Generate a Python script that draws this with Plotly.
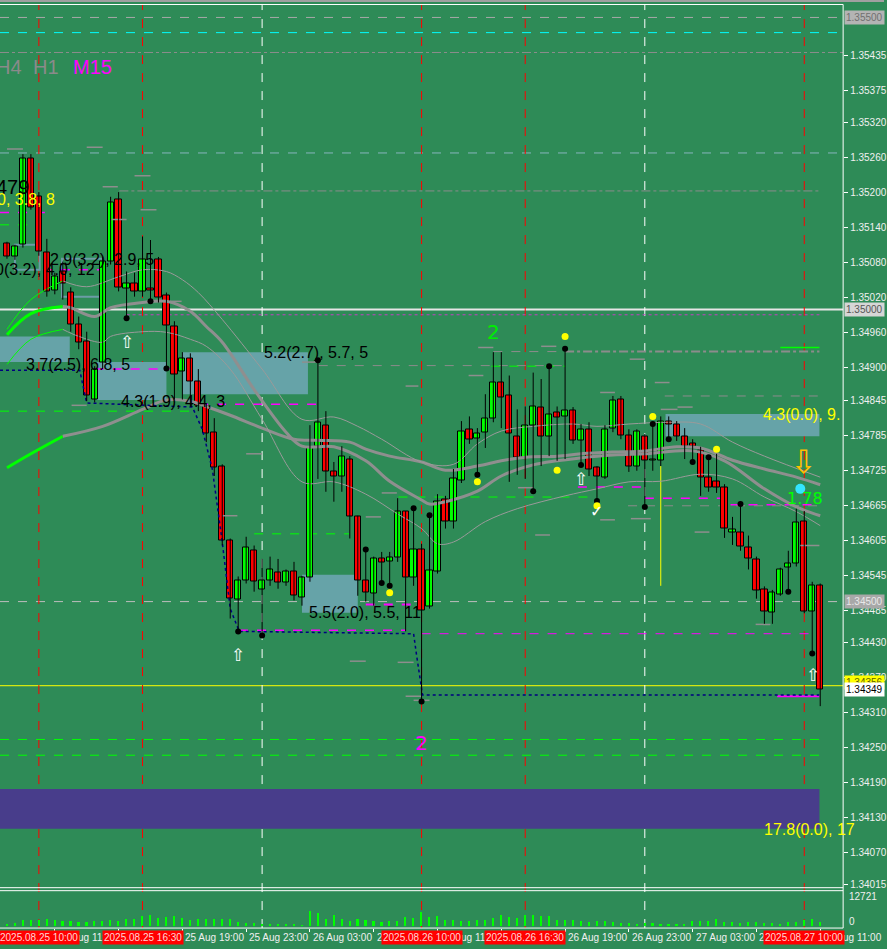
import plotly.graph_objects as go
import pandas as pd

# ---------------- data (M30 bars) ----------------
START = "2025-08-25 08:00"
BAR_MIN = 30

open_ = [1.35113,1.35090,1.35111,1.35259,1.35193,1.35097,1.35032,1.35065,1.35029,1.34974,
         1.34945,1.34846,1.34910,1.35082,1.35188,1.35036,1.35044,1.35031,1.35036,1.35085,
         1.35024,1.34971,1.34894,1.34916,1.34877,1.34834,1.34790,1.34732,1.34604,1.34503,
         1.34536,1.34587,1.34520,1.34536,1.34549,1.34532,1.34551,1.34507,1.34541,1.34765,
         1.34802,1.34722,1.34715,1.34744,1.34645,1.34536,1.34514,1.34573,1.34568,1.34575,
         1.34654,1.34541,1.34589,1.34491,1.34551,1.34674,1.34637,1.34708,1.34794,1.34780,
         1.34790,1.34814,1.34875,1.34852,1.34783,1.34747,1.34802,1.34833,1.34782,1.34823,
         1.34817,1.34828,1.34775,1.34795,1.34729,1.34713,1.34797,1.34846,1.34785,1.34732,
         1.34782,1.34741,1.34742,1.34809,1.34804,1.34783,1.34770,1.34759,1.34713,1.34706,
         1.34696,1.34619,1.34619,1.34592,1.34572,1.34520,1.34481,1.34512,1.34558,1.34565,
         1.34637,1.34483,1.34527]
high_ = [1.35116,1.35111,1.35266,1.35266,1.35201,1.35121,1.35063,1.35082,1.35038,1.34988,
         1.34962,1.34903,1.35090,1.35193,1.35201,1.35065,1.35063,1.35125,1.35119,1.35090,
         1.35029,1.34980,1.34927,1.34925,1.34898,1.34838,1.34814,1.34735,1.34608,1.34543,
         1.34611,1.34596,1.34573,1.34577,1.34573,1.34555,1.34568,1.34544,1.34802,1.34913,
         1.34826,1.34739,1.34766,1.34749,1.34647,1.34587,1.34577,1.34585,1.34585,1.34677,
         1.34655,1.34660,1.34599,1.34648,1.34684,1.34681,1.34727,1.34809,1.34817,1.34797,
         1.34855,1.34927,1.34927,1.34887,1.34829,1.34834,1.34892,1.34881,1.34903,1.34834,
         1.34933,1.34833,1.34804,1.34807,1.34732,1.34802,1.34852,1.34852,1.34795,1.34795,
         1.34787,1.34804,1.34817,1.34817,1.34809,1.34797,1.34778,1.34765,1.34747,1.34753,
         1.34701,1.34645,1.34667,1.34613,1.34577,1.34526,1.34520,1.34558,1.34587,1.34659,
         1.34655,1.34534,1.34531]
low_ = [1.35087,1.35085,1.35106,1.35171,1.35092,1.35022,1.35026,1.35017,1.34962,1.34932,
        1.34843,1.34841,1.34898,1.35077,1.35031,1.34985,1.35022,1.35022,1.35014,1.35012,
        1.34899,1.34846,1.34846,1.34834,1.34826,1.34773,1.34715,1.34596,1.34471,1.34449,
        1.34531,1.34517,1.34442,1.34527,1.34522,1.34527,1.34502,1.34493,1.34534,1.34710,
        1.34688,1.34671,1.34688,1.34608,1.34510,1.34500,1.34493,1.34532,1.34527,1.34568,
        1.34449,1.34527,1.34329,1.34488,1.34548,1.34625,1.34625,1.34703,1.34770,1.34717,
        1.34763,1.34807,1.34797,1.34705,1.34717,1.34710,1.34689,1.34732,1.34749,1.34741,
        1.34744,1.34770,1.34734,1.34715,1.34672,1.34710,1.34790,1.34778,1.34722,1.34724,
        1.34662,1.34724,1.34732,1.34776,1.34775,1.34744,1.34739,1.34681,1.34688,1.34686,
        1.34609,1.34597,1.34587,1.34555,1.34505,1.34462,1.34462,1.34510,1.34517,1.34560,
        1.34480,1.34411,1.34321]
close_ = [1.35090,1.35108,1.35259,1.35174,1.35099,1.35031,1.35056,1.35044,1.34974,1.34944,
          1.34852,1.34898,1.35082,1.35184,1.35038,1.35044,1.35031,1.35085,1.35032,1.35020,
          1.34973,1.34889,1.34916,1.34877,1.34836,1.34788,1.34730,1.34604,1.34505,1.34536,
          1.34592,1.34534,1.34536,1.34555,1.34532,1.34551,1.34510,1.34541,1.34763,1.34807,
          1.34722,1.34715,1.34749,1.34645,1.34536,1.34515,1.34573,1.34567,1.34575,1.34654,
          1.34541,1.34590,1.34485,1.34553,1.34671,1.34637,1.34710,1.34792,1.34778,1.34787,
          1.34814,1.34875,1.34850,1.34788,1.34747,1.34802,1.34834,1.34782,1.34821,1.34816,
          1.34828,1.34775,1.34795,1.34727,1.34715,1.34795,1.34845,1.34785,1.34732,1.34792,
          1.34741,1.34744,1.34809,1.34804,1.34783,1.34766,1.34766,1.34712,1.34696,1.34695,
          1.34626,1.34623,1.34594,1.34573,1.34519,1.34483,1.34515,1.34555,1.34565,1.34635,
          1.34483,1.34527,1.34349]
volume = [821,1231,2599,2599,2326,3010,2326,2189,1915,1642,
          1642,1915,2189,2326,2189,2736,2873,3967,4651,3283,
          3694,3967,3420,2599,3010,2873,2736,2873,3010,1642,
          1094,1368,958,821,547,410,410,274,6293,5472,
          3010,4651,2736,1915,3010,2599,1915,1778,2052,2189,
          3694,3283,5746,3694,3967,2599,2462,2052,1915,2326,
          2599,3420,4651,3830,3283,4378,4651,4104,4104,2599,
          2599,2599,1915,1642,2052,2052,1642,1231,1231,958,
          1094,1368,410,684,684,547,2052,2189,2052,2873,
          1642,1642,1368,1505,1505,1231,1231,821,1642,1778,
          2326,3010,1642]
VOL_MAX = 12721

# moving averages (bar index, price); first part drawn lime
maA_idx = [0,3,7,12,17,20,23,25,28,32,36,39,43,45,48,52,55,59,62,65,69,72,76,80,84,87,91,95,99,102]
maA_val = [1.34729,1.34753,1.34783,1.34800,1.34829,1.34845,1.34843,1.34834,1.34819,1.34797,
           1.34778,1.34776,1.34773,1.34761,1.34749,1.34739,1.34725,1.34732,1.34741,1.34747,
           1.34749,1.34753,1.34756,1.34758,1.34765,1.34763,1.34742,1.34727,1.34713,1.34700]
maB_idx = [0,3,7,8,11,13,17,20,23,25,27,31,35,37,41,45,48,52,53,55,59,62,66,69,74,80,86,90,95,99,102]
maB_val = [1.34957,1.34993,1.35005,1.35003,1.34988,1.35003,1.35012,1.35014,1.34997,1.34971,
           1.34944,1.34863,1.34790,1.34766,1.34765,1.34741,1.34706,1.34674,1.34667,1.34671,
           1.34689,1.34715,1.34734,1.34741,1.34749,1.34753,1.34758,1.34741,1.34693,1.34662,1.34647]
ub_idx = [0,3,7,10,14,17,20,22,24,27,32,37,41,44,47,52,56,59,62,66,71,74,78,83,87,91,95,102]
ub_val = [1.34966,1.35017,1.35049,1.35039,1.35056,1.35068,1.35065,1.35051,1.35029,1.34983,
          1.34898,1.34812,1.34816,1.34800,1.34778,1.34739,1.34735,1.34770,1.34792,1.34800,
          1.34804,1.34800,1.34804,1.34807,1.34804,1.34773,1.34749,1.34713]
lb_idx = [0,3,7,9,12,13,17,20,23,25,28,32,37,41,45,49,52,54,56,60,64,70,74,78,82,87,91,95,99,102]
lb_val = [1.34906,1.34949,1.34966,1.34954,1.34944,1.34954,1.34962,1.34961,1.34949,1.34937,
          1.34898,1.34812,1.34705,1.34705,1.34684,1.34650,1.34625,1.34599,1.34602,1.34637,
          1.34659,1.34681,1.34693,1.34705,1.34706,1.34718,1.34710,1.34679,1.34654,1.34630]
LIME_UNTIL = 7
trail_idx = [-0.875,9.125,10,23.25,24.5,25.75,27,28,29.125,51,51.375,51.75,52.125,101.875]
trail_val = [1.34896,1.34896,1.34840,1.34833,1.34795,1.34727,1.34602,1.34488,1.34449,1.34445,
             1.34408,1.34372,1.34340,1.34340]

black_dot_idx = [15,18,20,29,32,39,45,47,48,51,53,52,59,66,68,70,72,74,80,81,83,86,88,92,98,101]
black_dot_val = [1.34985,1.35014,1.34899,1.34449,1.34442,1.34913,1.34589,1.34532,1.34527,1.34660,
                 1.34648,1.34329,1.34717,1.34689,1.34903,1.34933,1.34734,1.34672,1.34662,1.34804,
                 1.34778,1.34739,1.34747,1.34667,1.34517,1.34411]
yellow_dot_idx = [48,59,69,70,74,81,89]
yellow_dot_val = [1.34515,1.34705,1.34725,1.34954,1.34664,1.34817,1.34761]

# levels
full_levels = [  # price, colour, dash, width
    (1.35500, '#A8A8A8', 'dash', 1),
    (1.35474, '#00FFFF', 'dash', 1),
    (1.35440, '#8C8C8C', 'dashdot', 1),
    (1.35268, '#86B4BE', 'dash', 1),
    (1.35000, '#E6E6E6', 'solid', 2),
    (1.34500, '#BDBDBD', 'dash', 1),
    (1.34356, '#FFFF00', 'solid', 1),
]
seg_levels = [  # i0, i1, price, colour, dash, width
    (-0.875, 101.9, 1.34264, '#00FF00', 'dash', 1),
    (-0.875, 101.9, 1.34237, '#00FF00', 'dash', 1),
    (14.1, 101.9, 1.35203, '#8C8C8C', 'dashdot', 1),
    (70, 101.9, 1.34928, '#8C8C8C', 'dashdot', 2),
    (61, 70, 1.34928, '#8C8C8C', 'dash', 1),
    (39.1, 70, 1.34904, '#8C8C8C', 'dash', 1),
    (60.75, 70, 1.34903, '#00FF00', 'dash', 1),
    (82.5, 101.9, 1.34852, '#8C8C8C', 'dash', 1),
    (-0.875, 23.5, 1.34826, '#00FF00', 'dash', 1),
    (11, 20.4, 1.34898, '#FF00FF', 'dash', 1.5),
    (24.1, 38.9, 1.34838, '#FF00FF', 'dash', 1.5),
    (-0.875, 4.1, 1.35145, '#00FF00', 'dash', 1),
    (-0.875, 4.75, 1.35166, '#FF00FF', 'dash', 1.5),
    (4.5, 11.6, 1.35068, '#FF00FF', 'dash', 1.5),
    (15, 101.9, 1.34991, '#C040C0', 'dot', 1),
    (31, 42.9, 1.34616, '#00FF00', 'dash', 1),
    (49.1, 73.9, 1.34679, '#00FF00', 'dash', 1),
    (97, 101.9, 1.34935, '#00FF00', 'solid', 1.5),
    (45, 52, 1.34495, '#FF00FF', 'dash', 2),
    (29.1, 50, 1.34451, '#FF00FF', 'dash', 1.5),
    (52, 100.75, 1.34445, '#FF00FF', 'dash', 1),
    (71.6, 80, 1.34696, '#FF00FF', 'dash', 1.5),
    (80, 90, 1.34677, '#FF00FF', 'dash', 1.5),
    (90.75, 101.9, 1.34666, '#FF00FF', 'dash', 1.5),
    (77.9, 101.9, 1.34664, '#8C8C8C', 'dash', 1),
    (96.6, 101.9, 1.34338, '#FF00FF', 'solid', 2),
]
short_i0 = [0,10,16,12,16.75,13.1,8.1,30,27,37,47,45,50,57.9,59.1,67,74.4,78.1,81.25,82,84.1,64.1,66.25,74.4,78.25,86.25,93.9,43,49,50,51,20.4,99.5]
short_i1 = [2,12,18,13.9,18.75,15,10,32,28.9,38.9,48.9,46.9,51.6,59.75,61,68.9,76.25,80,83.1,84.1,86,66,68.1,76.25,80.75,88.1,95.75,45,51,52,53,21.9,101.9]
short_p = [1.35275,1.35278,1.35229,1.35210,1.35171,1.35154,1.34836,1.34753,1.34647,1.34910,1.34686,
           1.34645,1.34869,1.34887,1.34935,1.34937,1.34858,1.34915,1.34875,1.34829,1.34833,1.34695,
           1.34614,1.34640,1.34642,1.34619,1.34461,1.34398,1.34396,1.34338,1.34331,1.35014,1.34596]

zones = [(-0.875, 7.875, 1.34954, 1.34910), (11.25, 20, 1.34910, 1.34845),
         (22, 37.75, 1.34927, 1.34855), (37, 44, 1.34546, 1.34481), (82.6, 101.9, 1.34821, 1.34783)]
outline_boxes = [(1, 4.1, 1.35111, 1.35068), (6.9, 12, 1.35087, 1.35022)]
band = (-0.875, 101.9, 1.34179, 1.34111)

red_vlines = ["2025-08-25 10:00", "2025-08-25 16:30", "2025-08-26 10:00", "2025-08-26 16:30", "2025-08-27 10:00"]
red_vlabels = ["2025.08.25 10:00", "2025.08.25 16:30", "2025.08.26 10:00", "2025.08.26 16:30", "2025.08.27 10:00"]
day_vlines = ["2025-08-26 00:00", "2025-08-27 00:00"]
yellow_vline = (82, 1.34732, 1.34527)

time_tick_labels = ['25 Aug 11:00', '25 Aug 15:00', '25 Aug 19:00', '25 Aug 23:00', '26 Aug 03:00',
                    '26 Aug 07:00', '26 Aug 11:00', '26 Aug 15:00', '26 Aug 19:00', '26 Aug 23:00',
                    '27 Aug 03:00', '27 Aug 07:00', '27 Aug 11:00']
time_tick_idx = [6 + 8 * k for k in range(len(time_tick_labels))]

price_ticks = [1.35435, 1.35375, 1.35320, 1.35260, 1.35200, 1.35140, 1.35080, 1.35020, 1.34960,
               1.34900, 1.34845, 1.34785, 1.34725, 1.34665, 1.34605, 1.34545, 1.34485, 1.34430,
               1.34370, 1.34310, 1.34250, 1.34190, 1.34130, 1.34070, 1.34015]
price_boxes = [  # price, text, bg, fg
    (1.35500, '1.35500', '#B4B4B4', '#707070'),
    (1.35000, '1.35000', '#D6D6D6', '#555555'),
    (1.34500, '1.34500', '#A8A8A8', '#E8E8E8'),
    (1.34362, '1.34356', '#FFFF00', '#606000'),
    (1.34349, '1.34349', '#FFFFFF', '#000000'),
]

chart_texts = [  # i, price, text, colour, size
    (32, 1.34927, '5.2(2.7), 5.7, 5', '#000000', 16),
    (14.1, 1.34843, '4.3(1.9), 4.4, 3', '#000000', 16),
    (2.1, 1.34906, '3.7(2.5), 6.8, 5', '#000000', 16),
    (5.1, 1.35085, '2.9(3.2), 2.9, 5', '#000000', 16),
    (37.6, 1.34481, '5.5(2.0), 5.5, 11', '#000000', 16),
    (94.6, 1.34821, '4.3(0.0), 9.', '#FFFF00', 16),
    (94.75, 1.34109, '17.8(0.0), 17', '#FFFF00', 16),
]
edge_texts = [  # left px, price, text, colour, size
    (-7, 1.35068, '0(3.2), 4.0, 12', '#000000', 16),
    (-6, 1.35210, '479', '#000000', 20),
    (-5, 1.35188, '0, 3.8, 8', '#FFFF00', 16),
]
tf_labels = [(-6, 'H4', '#8A8A8A'), (31, 'H1', '#8A8A8A'), (71, 'M15', '#FF00FF')]
symbols = [  # i, price, char, colour, size
    (15, 1.34944, '⇧', '#FFFFFF', 17), (29, 1.34408, '⇧', '#FFFFFF', 17),
    (72, 1.34710, '⇧', '#FFFFFF', 17), (101.1, 1.34374, '⇧', '#FFFFFF', 17),
    (99.9, 1.34739, '⇩', '#FFC000', 32), (73.9, 1.34654, '✓', '#FFFFFF', 16),
    (61, 1.34962, '2', '#00EE00', 20), (52, 1.34258, '2', '#FF00FF', 20),
    (100.1, 1.34677, '1.78', '#00FF00', 16),
]
cyan_dot = (99.5, 1.34693)

# ---------------- helpers ----------------
W, H = 887, 949
BG = '#2E8B57'
XR = 846 / W
t0 = pd.Timestamp(START)


def T(i):
    return (t0 + pd.Timedelta(minutes=BAR_MIN * i)).round('s').strftime('%Y-%m-%d %H:%M:%S')


def py(pix):
    return 1 - pix / H


n = len(open_)
xs = [T(i) for i in range(n)]

fig = go.Figure()

# MAs
for idx, val, w, col in [(maA_idx, maA_val, 3, '#8F8F8F'), (maB_idx, maB_val, 3, '#8F8F8F'),
                         (ub_idx, ub_val, 1, '#9A9A9A'), (lb_idx, lb_val, 1, '#9A9A9A')]:
    k = idx.index(LIME_UNTIL)
    fig.add_trace(go.Scatter(x=[T(i) for i in idx[:k + 1]], y=val[:k + 1], mode='lines',
                             line=dict(color='#00FF00', width=w, shape='spline'), hoverinfo='skip'))
    fig.add_trace(go.Scatter(x=[T(i) for i in idx[k:]], y=val[k:], mode='lines',
                             line=dict(color=col, width=w, shape='spline'), hoverinfo='skip'))

# trailing line
fig.add_trace(go.Scatter(x=[T(i) for i in trail_idx], y=trail_val, mode='lines',
                         line=dict(color='#000080', width=1.5, dash='dot'), hoverinfo='skip'))

# short gray marks
sx, sy = [], []
for a, b, p in zip(short_i0, short_i1, short_p):
    sx += [T(a), T(b), None]
    sy += [p, p, None]
fig.add_trace(go.Scatter(x=sx, y=sy, mode='lines', line=dict(color='#8E8E8E', width=1.5), hoverinfo='skip'))

# wicks
wx, wy = [], []
for i in range(n):
    wx += [xs[i], xs[i], None]
    wy += [low_[i], high_[i], None]
fig.add_trace(go.Scatter(x=wx, y=wy, mode='lines', line=dict(color='#000000', width=1), hoverinfo='skip'))

# bodies
colors = ['#00FF00' if c >= o else '#FF0000' for o, c in zip(open_, close_)]
fig.add_trace(go.Bar(x=xs, y=[c - o for o, c in zip(open_, close_)], base=open_,
                     width=BAR_MIN * 60 * 1000 * 0.78, marker=dict(color=colors, line=dict(color='#000000', width=1))))

# dots
fig.add_trace(go.Scatter(x=[T(i) for i in black_dot_idx], y=black_dot_val, mode='markers',
                         marker=dict(color='#000000', size=6), hoverinfo='skip'))
fig.add_trace(go.Scatter(x=[T(i) for i in yellow_dot_idx], y=yellow_dot_val, mode='markers',
                         marker=dict(color='#FFFF00', size=7), hoverinfo='skip'))
fig.add_trace(go.Scatter(x=[T(cyan_dot[0])], y=[cyan_dot[1]], mode='markers',
                         marker=dict(color='#33E5FF', size=10), hoverinfo='skip'))

# volume
fig.add_trace(go.Bar(x=xs, y=volume, yaxis='y2', width=BAR_MIN * 60 * 1000 * 0.2,
                     marker=dict(color='#00FF00', line=dict(width=0))))

# ---------------- shapes ----------------
shapes = []
for i0, i1, pt, pb in zones:
    shapes.append(dict(type='rect', xref='x', yref='y', x0=T(i0), x1=T(i1), y0=pb, y1=pt,
                       fillcolor='#66A3A8', line=dict(width=0), layer='below'))
i0, i1, pt, pb = band
shapes.append(dict(type='rect', xref='x', yref='y', x0=T(i0), x1=T(i1), y0=pb, y1=pt,
                   fillcolor='#483D8B', line=dict(width=0), layer='below'))
for i0, i1, pt, pb in outline_boxes:
    shapes.append(dict(type='rect', xref='x', yref='y', x0=T(i0), x1=T(i1), y0=pb, y1=pt,
                       fillcolor='rgba(0,0,0,0)', line=dict(color='#6C9CA6', width=2), layer='below'))
for p, col, dash, w in full_levels:
    shapes.append(dict(type='line', xref='x domain', yref='y', x0=0, x1=1, y0=p, y1=p,
                       line=dict(color=col, dash=dash, width=w), layer='below'))
for i0, i1, p, col, dash, w in seg_levels:
    shapes.append(dict(type='line', xref='x', yref='y', x0=T(i0), x1=T(i1), y0=p, y1=p,
                       line=dict(color=col, dash=dash, width=w), layer='below'))
for t in red_vlines:
    shapes.append(dict(type='line', xref='x', yref='paper', x0=t, x1=t, y0=py(931), y1=py(4),
                       line=dict(color='#FF0000', dash='dash', width=1), layer='below'))
for t in day_vlines:
    shapes.append(dict(type='line', xref='x', yref='paper', x0=t, x1=t, y0=py(931), y1=py(4),
                       line=dict(color='#FFFFFF', dash='dash', width=1), layer='below'))
shapes.append(dict(type='line', xref='x', yref='y', x0=T(yellow_vline[0]), x1=T(yellow_vline[0]),
                   y0=yellow_vline[2], y1=yellow_vline[1], line=dict(color='#FFFF00', width=1), layer='below'))
# frame
shapes += [
    dict(type='line', xref='paper', yref='paper', x0=0, x1=1, y0=py(1), y1=py(1), line=dict(color='#A0A0A0', width=2)),
    dict(type='line', xref='paper', yref='paper', x0=0, x1=XR, y0=py(4.5), y1=py(4.5), line=dict(color='#FFFFFF', width=1)),
    dict(type='line', xref='paper', yref='paper', x0=XR, x1=XR, y0=py(931), y1=py(4.5), line=dict(color='#FFFFFF', width=1)),
    dict(type='line', xref='paper', yref='paper', x0=0, x1=XR, y0=py(890.5), y1=py(890.5), line=dict(color='#FFFFFF', width=1)),
    dict(type='line', xref='paper', yref='paper', x0=0, x1=XR, y0=py(893.5), y1=py(893.5), line=dict(color='#FFFFFF', width=1)),
    dict(type='line', xref='paper', yref='paper', x0=0, x1=XR, y0=py(931), y1=py(931), line=dict(color='#FFFFFF', width=1)),
]

# ---------------- annotations ----------------
ann = []
FONT = 'Liberation Sans'
for i, p, txt, col, sz in chart_texts:
    ann.append(dict(x=T(i), y=p, xref='x', yref='y', text=txt, showarrow=False, xanchor='left',
                    yanchor='middle', font=dict(family=FONT, size=sz, color=col)))
for lpx, p, txt, col, sz in edge_texts:
    ann.append(dict(x=lpx / W, y=p, xref='paper', yref='y', text=txt, showarrow=False, xanchor='left',
                    yanchor='middle', font=dict(family=FONT, size=sz, color=col)))
for lpx, txt, col in tf_labels:
    ann.append(dict(x=lpx / W, y=py(67), xref='paper', yref='paper', text=txt, showarrow=False,
                    xanchor='left', yanchor='middle', font=dict(family=FONT, size=20, color=col)))
for i, p, ch, col, sz in symbols:
    ann.append(dict(x=T(i), y=p, xref='x', yref='y', text=ch, showarrow=False, xanchor='center',
                    yanchor='middle', font=dict(family='DejaVu Sans', size=sz, color=col)))
for i, lab in zip(time_tick_idx, time_tick_labels):
    ann.append(dict(x=T(i), y=py(940.5), xref='x', yref='paper', text=lab, showarrow=False, xanchor='left',
                    xshift=1, yanchor='middle', font=dict(family=FONT, size=10, color='#F0F0F0')))
for t, lab in zip(red_vlines, red_vlabels):
    ann.append(dict(x=t, y=py(940.5), xref='x', yref='paper', text=lab, showarrow=False, xanchor='center',
                    yanchor='middle', bgcolor='#FF0000', borderpad=1,
                    font=dict(family=FONT, size=10, color='#FFD6D6')))
for p, txt, bg, fg in price_boxes:
    ann.append(dict(x=847 / W, y=p, xref='paper', yref='y', text=txt, showarrow=False, xanchor='left',
                    yanchor='middle', bgcolor=bg, borderpad=1, font=dict(family=FONT, size=10, color=fg)))
for lab, ypx in [(str(VOL_MAX), 899), ('0', 924)]:
    ann.append(dict(x=850 / W, y=py(ypx), xref='paper', yref='paper', text=lab, showarrow=False,
                    xanchor='left', yanchor='middle', font=dict(family=FONT, size=10, color='#F0F0F0')))

P_TOP = 1.35500 + 13 / 58600
P_BOT = 1.35500 - 873 / 58600
vol_lo = -VOL_MAX * 2 / 31

fig.update_layout(
    width=W, height=H, margin=dict(l=0, r=0, t=0, b=0),
    paper_bgcolor=BG, plot_bgcolor=BG, showlegend=False, barmode='overlay', bargap=0,
    shapes=shapes, annotations=ann,
    xaxis=dict(domain=[0, XR], type='date', range=[T(-0.875), T(104.875)], anchor='y2',
               showgrid=False, zeroline=False, showline=False, ticks='outside', ticklen=3,
               tickcolor='#FFFFFF', tickvals=[T(i) for i in time_tick_idx], showticklabels=False,
               fixedrange=True),
    yaxis=dict(domain=[py(890.5), py(4.5)], range=[P_BOT, P_TOP], side='right', anchor='x',
               showgrid=False, zeroline=False, showline=False, ticks='outside', ticklen=4,
               tickcolor='#FFFFFF', tickvals=price_ticks, ticktext=[f'{v:.5f}' for v in price_ticks],
               tickfont=dict(family=FONT, size=10, color='#F0F0F0'), fixedrange=True),
    yaxis2=dict(domain=[py(931), py(898)], range=[vol_lo, VOL_MAX], side='right', anchor='x',
                showgrid=False, zeroline=False, showticklabels=False, ticks='', fixedrange=True),
)

fig.write_html("out.html", config={'displayModeBar': False},
               post_script="document.body.style.margin='0';document.body.style.padding='0';"
                           "document.body.style.overflow='hidden';")
